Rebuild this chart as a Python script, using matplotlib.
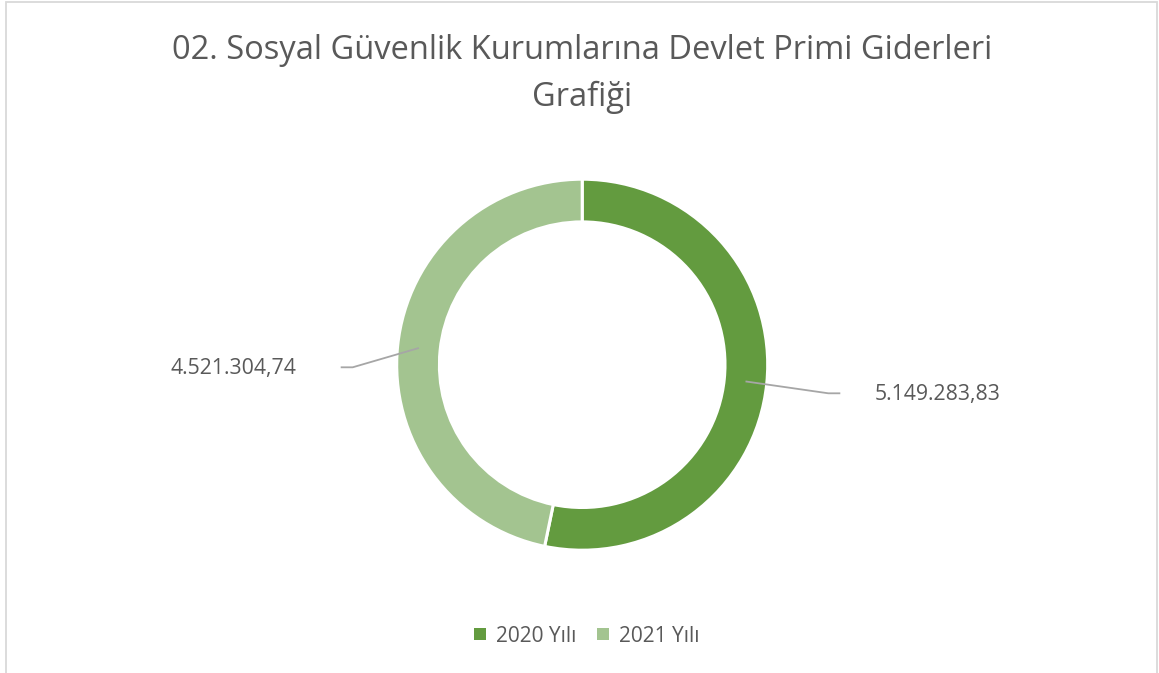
import matplotlib.pyplot as plt
from matplotlib.patches import Rectangle
import numpy as np

# data
years = ['2020 Yılı', '2021 Yılı']
values = [5149283.83, 4521304.74]
colors = ['#639B3F', '#A3C490']

title = '02. Sosyal Güvenlik Kurumlarına Devlet Primi Giderleri\nGrafiği'

W, H = 1159, 673
plt.rcParams['font.family'] = ['Open Sans', 'DejaVu Sans']
txtcol = '#595959'


def tr_fmt(v):
    s = f'{v:,.2f}'
    return s.replace(',', 'X').replace('.', ',').replace('X', '.')


fig = plt.figure(figsize=(W / 100, H / 100), dpi=100)
ax = fig.add_axes([0, 0, 1, 1])

cx, cy = 582.2, H - 364.7
R = 185.5
ring = 42.7

wedges, _ = ax.pie(values, colors=colors, startangle=90, counterclock=False,
                   center=(cx, cy), radius=R,
                   wedgeprops=dict(width=ring, edgecolor='white', linewidth=2.2))
ax.set_xlim(0, W)
ax.set_ylim(0, H)
ax.set_aspect('equal')
ax.axis('off')

# leader lines + labels
rmid = R - ring / 2
elbows = [(246.1, -28.6), (-229.5, -2.6)]
for w, v, (ex, ey) in zip(wedges, values, elbows):
    ang = np.deg2rad((w.theta1 + w.theta2) / 2)
    sx, sy = cx + rmid * np.cos(ang), cy + rmid * np.sin(ang)
    side = 1 if ex > 0 else -1
    bx, by = cx + ex, cy + ey
    hx = bx + side * 12
    ax.plot([sx, bx, hx], [sy, by, by], color='#A6A6A6', lw=1.3,
            solid_capstyle='butt', zorder=3)
    tx = hx + side * 34 if side > 0 else hx - 44
    ax.text(tx, by - 1, tr_fmt(v), ha='left' if side > 0 else 'right',
            va='center', fontsize=15.3, color=txtcol)

fig.text(582 / W, 1 - 74 / H, title, ha='center', va='center',
         fontsize=23.5, color=txtcol, fontweight='normal', linespacing=1.52)

leg = fig.legend(wedges, years, loc='center', bbox_to_anchor=(587 / W, 1 - 636 / H),
                 ncol=2, frameon=False, fontsize=15, handlelength=0.55,
                 handleheight=0.55, handletextpad=0.5, columnspacing=1.0)
for t in leg.get_texts():
    t.set_color(txtcol)
for h in leg.legend_handles:
    h.set_edgecolor('none')

fig.patches.append(Rectangle((5.5 / W, -0.1), 1151.5 / W, 1.1 - 2.5 / H,
                             transform=fig.transFigure, fill=False,
                             edgecolor='#D9D9D9', lw=1.3))

fig.savefig('out.png', dpi=100)
